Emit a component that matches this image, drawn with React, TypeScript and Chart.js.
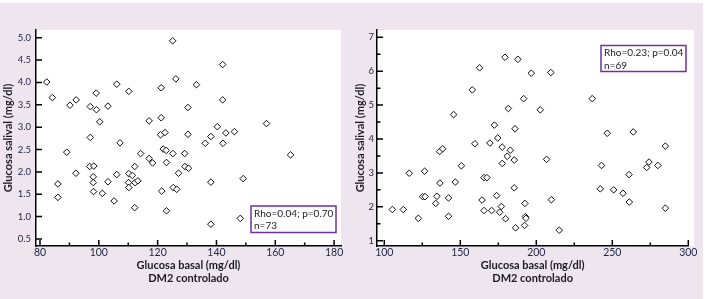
import React, { useEffect, useRef } from "react";
import { Chart, registerables } from "chart.js";

Chart.register(...registerables);

// ---------- Data: left panel ----------
const leftBasal = [
  82.3, 84.2, 90.2, 92.3, 89.1, 92.2, 86.1, 86.1, 97.1, 99.1,
  99.2, 106.1, 110.2, 103.1, 100.3, 97.1, 107.2, 96.9, 98.3, 98.1,
  98.1, 98.2, 101.2, 103.1, 106.1, 105.2, 110.2, 110.1, 110.2, 111.4,
  112.3, 113.3, 112.2, 112.2, 114.2, 117.1, 117.1, 118.3, 121.2, 121.2,
  121.0, 122.5, 121.9, 122.9, 123.0, 121.4, 123.0, 125.1, 126.2, 125.2,
  127.1, 125.3, 126.5, 133.2, 130.3, 130.3, 129.2, 129.3, 130.5, 136.2,
  138.1, 140.3, 142.1, 142.1, 142.2, 143.2, 146.1, 138.1, 138.1, 148.1,
  149.1, 157.0, 165.2,
];
const leftSalival = [
  4.01, 3.66, 3.49, 3.61, 2.44, 1.97, 1.73, 1.43, 3.46, 3.76,
  3.39, 3.96, 3.8, 3.47, 3.12, 2.77, 2.65, 2.12, 2.13, 1.89,
  1.76, 1.56, 1.52, 1.78, 1.94, 1.35, 1.96, 1.76, 1.65, 1.92,
  1.76, 1.8, 2.12, 1.2, 2.41, 3.14, 2.3, 2.2, 3.88, 3.21,
  2.83, 2.88, 2.51, 2.48, 2.21, 1.57, 1.13, 4.93, 4.08, 2.41,
  1.97, 1.65, 1.61, 3.95, 3.44, 2.84, 2.41, 2.12, 2.08, 2.64,
  2.79, 3.01, 4.4, 3.61, 2.64, 2.87, 2.9, 1.77, 0.83, 0.96,
  1.85, 3.08, 2.38,
];
const leftXTicks = [80, 100, 120, 140, 160, 180];
const leftXMinor = [90, 110, 130, 150, 170];
const leftYTicks = [0.5, 1.0, 1.5, 2.0, 2.5, 3.0, 3.5, 4.0, 4.5, 5.0];
const leftYMinor: number[] = [];
const leftStats = ["Rho=0.04; p=0.70", "n=73"];

// ---------- Data: right panel ----------
const rightBasal = [
  105.3, 112.5, 116.4, 122.4, 125.2, 126.8, 126.5, 133.8, 134.6, 136.4,
  138.4, 136.6, 142.3, 142.3, 145.6, 146.7, 150.7, 157.9, 162.7, 159.6,
  164.3, 165.6, 167.5, 165.6, 169.5, 170.6, 172.4, 174.6, 173.9, 175.9,
  177.0, 177.6, 177.6, 179.4, 179.8, 181.6, 180.9, 182.9, 185.5, 186.0,
  185.5, 186.4, 187.9, 191.7, 192.5, 192.8, 193.2, 192.3, 196.7, 202.6,
  206.8, 209.6, 209.9, 215.1, 236.8, 246.7, 242.9, 242.1, 250.9, 257.0,
  261.0, 261.2, 263.8, 272.6, 274.1, 280.0, 284.9, 284.9,
];
const rightSalival = [
  1.92, 1.92, 2.99, 1.66, 2.3, 2.3, 3.05, 2.1, 2.31, 3.63,
  3.71, 2.7, 2.26, 1.72, 4.72, 2.73, 3.21, 5.45, 6.1, 3.86,
  2.2, 2.86, 2.86, 1.89, 3.88, 1.89, 4.41, 4.03, 2.33, 1.84,
  2.01, 3.76, 3.28, 6.41, 1.65, 4.9, 3.49, 3.67, 3.38, 4.3,
  2.56, 1.38, 6.35, 5.19, 2.1, 1.71, 1.66, 1.45, 5.94, 4.86,
  3.4, 5.96, 2.21, 1.31, 5.19, 4.17, 3.22, 2.53, 2.5, 2.4,
  2.95, 2.14, 4.21, 3.16, 3.32, 3.22, 3.79, 1.96,
];
const rightXTicks = [100, 150, 200, 250, 300];
const rightXMinor = [125, 175, 225, 275];
const rightYTicks = [1, 2, 3, 4, 5, 6, 7];
const rightYMinor = [1.5, 2.5, 3.5, 4.5, 5.5, 6.5];
const rightStats = ["Rho=0.23; p=0.04", "n=69"];

const xTitle = ["Glucosa basal (mg/dl)", "DM2 controlado"];
const yTitle = "Glucosa salival (mg/dl)";

const FONT = "Lato, 'Open Sans', sans-serif";
const TICK_COLOR = "#1c2442";
const TEXT_COLOR = "#1a1a24";

type PanelProps = {
  xs: number[];
  ys: number[];
  xMin: number;
  xMax: number;
  yMin: number;
  yMax: number;
  xTicks: number[];
  xMinor: number[];
  yTicks: number[];
  yMinor: number[];
  yDecimals: number;
  yAxisWidth: number;
  rightPad: number;
  yTickPad: number;
  yTitlePad: number;
  whiteExtra: number;
  stats: string[];
  box: { x: number; y: number; w: number; h: number };
  width: number;
  left: number;
};

function Panel(p: PanelProps) {
  const ref = useRef<HTMLCanvasElement | null>(null);
  useEffect(() => {
    if (!ref.current) return;
    const custom = {
      id: "custom",
      beforeDraw(chart: any) {
        const { ctx, chartArea: a } = chart;
        ctx.save();
        ctx.fillStyle = "#ffffff";
        ctx.fillRect(a.left, a.top, a.right - a.left + p.whiteExtra, a.bottom - a.top);
        ctx.restore();
      },
      afterDraw(chart: any) {
        const { ctx, chartArea: a } = chart;
        const sx = chart.scales.x;
        const sy = chart.scales.y;
        ctx.save();
        ctx.strokeStyle = "#000";
        ctx.lineWidth = 1.5;
        ctx.beginPath();
        for (const v of p.xTicks) {
          const px = sx.getPixelForValue(v);
          ctx.moveTo(px, a.bottom);
          ctx.lineTo(px, a.bottom - 6);
        }
        for (const v of p.xMinor) {
          const px = sx.getPixelForValue(v);
          ctx.moveTo(px, a.bottom);
          ctx.lineTo(px, a.bottom - 3.5);
        }
        for (const v of p.yTicks) {
          const py = sy.getPixelForValue(v);
          ctx.moveTo(a.left, py);
          ctx.lineTo(a.left + 6, py);
        }
        for (const v of p.yMinor) {
          const py = sy.getPixelForValue(v);
          ctx.moveTo(a.left, py);
          ctx.lineTo(a.left + 3.5, py);
        }
        ctx.stroke();
        // stats box
        const b = p.box;
        ctx.strokeStyle = "#7030a0";
        ctx.lineWidth = 1.5;
        ctx.strokeRect(b.x, b.y, b.w, b.h);
        ctx.fillStyle = TEXT_COLOR;
        ctx.font = `10px ${FONT}`;
        ctx.textBaseline = "middle";
        ctx.textAlign = "left";
        p.stats.forEach((s, i) => {
          ctx.fillText(s, b.x + 3, b.y + 7.5 + i * 12.5);
        });
        ctx.restore();
      },
    };

    const chart = new Chart(ref.current, {
      type: "scatter",
      data: {
        datasets: [
          {
            data: p.xs.map((x, i) => ({ x, y: p.ys[i] })),
            pointStyle: "rectRot",
            pointRadius: 3.3,
            pointHoverRadius: 3.3,
            pointBorderWidth: 1,
            borderColor: "#111",
            backgroundColor: "#ffffff",
          },
        ],
      },
      options: {
        animation: false,
        responsive: false,
        devicePixelRatio: 1,
        events: [],
        layout: { padding: { top: 30, right: p.rightPad, bottom: 0, left: 0 } },
        plugins: { legend: { display: false }, tooltip: { enabled: false } },
        scales: {
          x: {
            type: "linear",
            position: "bottom",
            min: p.xMin,
            max: p.xMax,
            afterBuildTicks: (axis: any) => {
              axis.ticks = p.xTicks.map((v) => ({ value: v }));
            },
            afterFit: (s: any) => {
              s.height = 53;
            },
            grid: { display: false, drawTicks: false },
            border: { display: true, color: "#000", width: 1.5 },
            ticks: {
              padding: 0,
              color: TICK_COLOR,
              font: { family: FONT, size: 10.5 },
              maxRotation: 0,
              autoSkip: false,
              callback: (v: any) => String(v),
            },
            title: {
              display: true,
              text: xTitle,
              color: TEXT_COLOR,
              font: { family: FONT, size: 11, weight: "bold", lineHeight: "12.5px" },
              padding: { top: 0, bottom: 14.5 },
            },
          },
          y: {
            type: "linear",
            position: "left",
            min: p.yMin,
            max: p.yMax,
            afterBuildTicks: (axis: any) => {
              axis.ticks = p.yTicks.map((v) => ({ value: v }));
            },
            afterFit: (s: any) => {
              s.width = p.yAxisWidth;
            },
            grid: { display: false, drawTicks: false },
            border: { display: true, color: "#000", width: 1.5 },
            ticks: {
              padding: p.yTickPad,
              color: TICK_COLOR,
              font: { family: FONT, size: 9.5 },
              autoSkip: false,
              callback: (v: any) => Number(v).toFixed(p.yDecimals),
            },
            title: {
              display: true,
              text: yTitle,
              color: TEXT_COLOR,
              font: { family: FONT, size: 11, weight: "bold", lineHeight: "12.5px" },
              padding: { top: p.yTitlePad, bottom: 0 },
            },
          },
        },
      },
      plugins: [custom],
    } as any);
    return () => chart.destroy();
  }, []);
  return (
    <canvas
      ref={ref}
      width={p.width}
      height={299}
      style={{ position: "absolute", left: p.left, top: 0, width: p.width, height: 299 }}
    />
  );
}

export default function App() {
  return (
    <div
      style={{
        position: "fixed",
        left: 0,
        top: 0,
        width: 707,
        height: 299,
        background: "#ffffff",
        overflow: "hidden",
      }}
    >
      <div
        style={{
          position: "absolute",
          left: 0,
          top: 3,
          width: 703,
          height: 296,
          background: "#efe5ef",
        }}
      />
      <Panel
        xs={leftBasal}
        ys={leftSalival}
        xMin={78.64}
        xMax={182.35}
        yMin={0.343}
        yMax={5.172}
        xTicks={leftXTicks}
        xMinor={leftXMinor}
        yTicks={leftYTicks}
        yMinor={leftYMinor}
        yDecimals={1}
        yAxisWidth={36}
        rightPad={9}
        yTickPad={5}
        yTitlePad={2.5}
        whiteExtra={0}
        stats={leftStats}
        box={{ x: 251, y: 206, w: 85, h: 26.5 }}
        width={350}
        left={0}
      />
      <Panel
        xs={rightBasal}
        ys={rightSalival}
        xMin={95.2}
        xMax={300}
        yMin={0.844}
        yMax={7.215}
        xTicks={rightXTicks}
        xMinor={rightXMinor}
        yTicks={rightYTicks}
        yMinor={rightYMinor}
        yDecimals={0}
        yAxisWidth={27}
        rightPad={18.7}
        yTickPad={3}
        yTitlePad={4.5}
        whiteExtra={5.7}
        stats={rightStats}
        box={{ x: 251, y: 45.5, w: 85, h: 26 }}
        width={357}
        left={350}
      />
    </div>
  );
}
